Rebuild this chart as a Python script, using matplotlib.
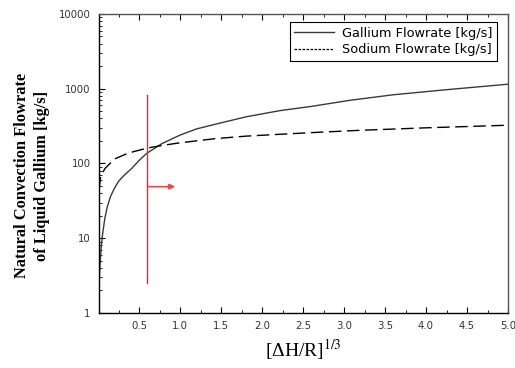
import matplotlib.pyplot as plt
from matplotlib.lines import Line2D
from matplotlib.ticker import MultipleLocator, FixedLocator, LogLocator, NullFormatter

plt.rcParams['font.family'] = ['DejaVu Sans']
plt.rcParams['mathtext.fontset'] = 'stix'

# gallium natural convection flowrate [kg/s]
ga_x = [0.012, 0.02, 0.035, 0.05, 0.08, 0.11, 0.15, 0.2, 0.25, 0.32, 0.41,
        0.5, 0.59, 0.78, 1.0, 1.2, 1.43, 1.8, 2.22, 2.6, 3.07, 3.6, 4.2, 5.0]
ga_y = [2.5, 4.0, 7.0, 10.5, 18, 26, 36, 47, 58, 70, 86,
        110, 136, 185, 240, 290, 335, 420, 510, 580, 700, 830, 960, 1150]

# sodium flowrate [kg/s]
na_x = [0.012, 0.03, 0.085, 0.2, 0.37, 0.59, 0.75, 0.98, 1.43, 1.8, 2.22,
        2.7, 3.2, 4.0, 5.0]
na_y = [45, 68, 86, 115, 138, 160, 172, 188, 215, 232, 246, 262, 278, 300, 325]

x_ticks = [0.5, 1.0, 1.5, 2.0, 2.5, 3.0, 3.5, 4.0, 4.5, 5.0]
y_ticks = [1, 10, 100, 1000, 10000]

# marker line and arrow
mark_x = 0.6
mark_y = (2.5, 820)
arrow_y = 49
arrow_end = 0.94

fig = plt.figure(figsize=(5.15, 3.68), dpi=100)
ax = fig.add_axes([0.1922, 0.1495, 0.7942, 0.8125])

ax.plot(ga_x, ga_y, color='#3a3a3a', lw=1.0)
ax.plot(na_x, na_y, color='black', lw=1.0, dashes=(9, 4))

ax.plot([mark_x, mark_x], mark_y, color='#e8282a', lw=1.0)
ax.annotate('', xy=(arrow_end, arrow_y), xytext=(mark_x, arrow_y),
            arrowprops=dict(arrowstyle='-|>', color='#f04848', lw=1.2,
                            mutation_scale=8, shrinkA=0, shrinkB=0))

ax.set_yscale('log')
ax.set_xlim(0.01, 5.0)
ax.set_ylim(1, 10000)

ax.xaxis.set_major_locator(FixedLocator(x_ticks))
ax.xaxis.set_minor_locator(MultipleLocator(0.25))
ax.set_xticklabels(['%.1f' % v for v in x_ticks])
ax.yaxis.set_major_locator(FixedLocator(y_ticks))
ax.set_yticklabels([str(v) for v in y_ticks])
ax.yaxis.set_minor_locator(LogLocator(base=10, subs=range(2, 10)))
ax.yaxis.set_minor_formatter(NullFormatter())

ax.tick_params(which='both', direction='in', top=True, right=False,
               labelsize=7.3, labelcolor='#333333', pad=6)
ax.tick_params(which='major', length=4.5, width=0.8)
ax.tick_params(which='minor', length=2.5, width=0.6)

for s in ['left', 'bottom']:
    ax.spines[s].set_linewidth(1.0)
for s in ['top', 'right']:
    ax.spines[s].set_color('#555555')
    ax.spines[s].set_linewidth(1.0)

ax.set_ylabel('Natural Convection Flowrate\nof Liquid Gallium [kg/s]',
              family=['Liberation Serif'], fontweight='bold', fontsize=11.8,
              multialignment='center', linespacing=1.3)
ax.yaxis.set_label_coords(-0.12, 0.46)
ax.set_xlabel('[ΔH/R]$^{1/3}$', family=['Liberation Serif'], fontsize=14,
              labelpad=4)

handles = [Line2D([], [], color='#3a3a3a', lw=1.0),
           Line2D([], [], color='black', lw=0.9, dashes=(2, 1.2))]
leg = ax.legend(handles, ['Gallium Flowrate [kg/s]', 'Sodium Flowrate [kg/s]'],
                loc='upper right', bbox_to_anchor=(0.972, 0.973),
                prop={'family': 'DejaVu Sans', 'size': 9.3}, fancybox=False,
                edgecolor='black', framealpha=1, handlelength=3.1,
                handletextpad=0.55, borderpad=0.35, labelspacing=0.3,
                borderaxespad=0)
leg.get_frame().set_linewidth(0.8)

fig.savefig('out.png', dpi=100)
